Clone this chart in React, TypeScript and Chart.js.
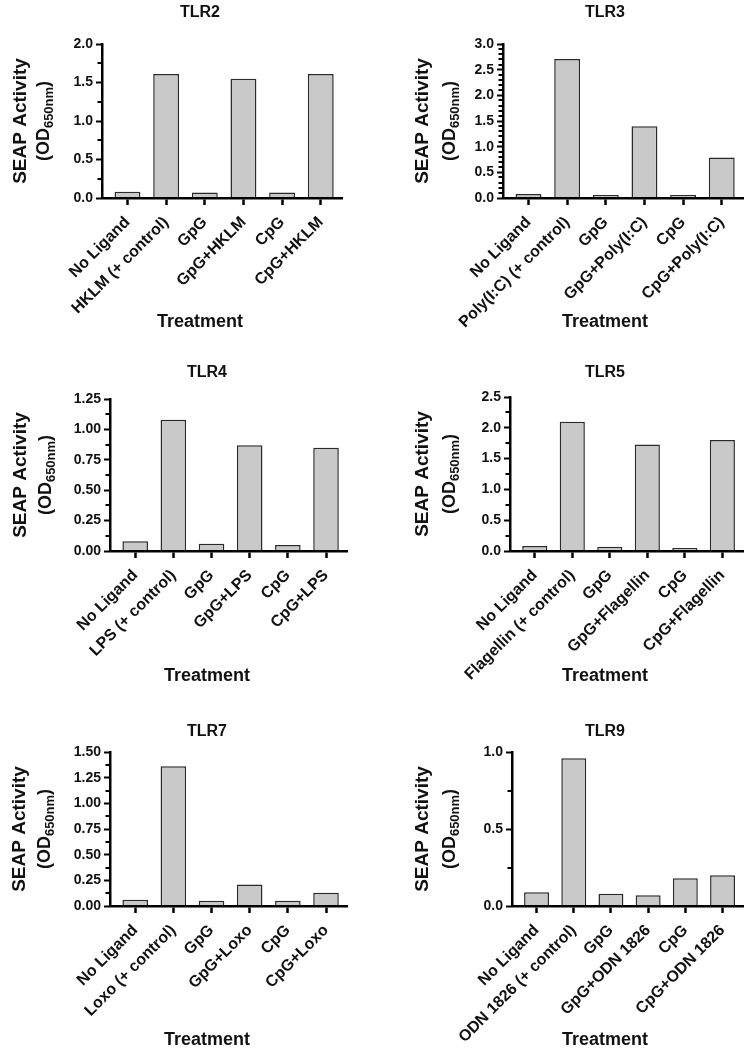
import React, { useEffect, useRef } from "react";
import { Chart, registerables } from "chart.js";

Chart.register(...registerables);

// ---------- DATA ----------
const TLR2_LABELS = ["No Ligand", "HKLM (+ control)", "GpG", "GpG+HKLM", "CpG", "CpG+HKLM"];
const TLR2_VALUES = [0.08, 1.61, 0.07, 1.55, 0.07, 1.61];

const TLR3_LABELS = ["No Ligand", "Poly(I:C) (+ control)", "GpG", "GpG+Poly(I:C)", "CpG", "CpG+Poly(I:C)"];
const TLR3_VALUES = [0.08, 2.71, 0.06, 1.40, 0.06, 0.79];

const TLR4_LABELS = ["No Ligand", "LPS (+ control)", "GpG", "GpG+LPS", "CpG", "CpG+LPS"];
const TLR4_VALUES = [0.08, 1.08, 0.06, 0.87, 0.05, 0.85];

const TLR5_LABELS = ["No Ligand", "Flagellin (+ control)", "GpG", "GpG+Flagellin", "CpG", "CpG+Flagellin"];
const TLR5_VALUES = [0.08, 2.10, 0.07, 1.73, 0.05, 1.80];

const TLR7_LABELS = ["No Ligand", "Loxo (+ control)", "GpG", "GpG+Loxo", "CpG", "CpG+Loxo"];
const TLR7_VALUES = [0.06, 1.36, 0.05, 0.21, 0.05, 0.13];

const TLR9_LABELS = ["No Ligand", "ODN 1826 (+ control)", "GpG", "GpG+ODN 1826", "CpG", "CpG+ODN 1826"];
const TLR9_VALUES = [0.09, 0.96, 0.08, 0.07, 0.18, 0.20];

// y-axis settings: [max, major step, minor step, decimals]
const TLR2_YAXIS = [2.0, 0.5, 0.25, 1];
const TLR3_YAXIS = [3.0, 0.5, 0.1, 1];
const TLR4_YAXIS = [1.25, 0.25, 0.125, 2];
const TLR5_YAXIS = [2.5, 0.5, 0.25, 1];
const TLR7_YAXIS = [1.5, 0.25, 0.125, 2];
const TLR9_YAXIS = [1.0, 0.5, 0.25, 1];

const Y_TITLE_MAIN = "SEAP Activity";
const Y_TITLE_PRE = "(OD";
const Y_TITLE_SUB = "650nm";
const Y_TITLE_POST = ")";
const X_TITLE = "Treatment";

// ---------- STYLE / LAYOUT ----------
const FONT = '"Liberation Sans", Arial, Helvetica, sans-serif';
const INK = "#111111";
const BAR_FILL = "#c9c9c9";
const BAR_EDGE = "#2a2a2a";

type Layout = {
  x: number; y: number; w: number; h: number;
  left: number; right: number; top: number; bottom: number;
  titleX: number; titleY: number; xTitleY: number;
  yMainX: number; ySubX: number;
};

const PANELS = [
  { title: "TLR2", labels: TLR2_LABELS, values: TLR2_VALUES, yaxis: TLR2_YAXIS,
    L: { x: 0, y: 0, w: 375, h: 345, left: 102, right: 342, top: 44, bottom: 198, titleX: 200, titleY: 13, xTitleY: 322, yMainX: 21, ySubX: 44 } },
  { title: "TLR3", labels: TLR3_LABELS, values: TLR3_VALUES, yaxis: TLR3_YAXIS,
    L: { x: 375, y: 0, w: 375, h: 345, left: 128, right: 368, top: 44, bottom: 198, titleX: 230, titleY: 13, xTitleY: 322, yMainX: 48, ySubX: 75 } },
  { title: "TLR4", labels: TLR4_LABELS, values: TLR4_VALUES, yaxis: TLR4_YAXIS,
    L: { x: 0, y: 345, w: 375, h: 350, left: 110, right: 347, top: 54, bottom: 206, titleX: 207, titleY: 28, xTitleY: 331, yMainX: 21, ySubX: 46 } },
  { title: "TLR5", labels: TLR5_LABELS, values: TLR5_VALUES, yaxis: TLR5_YAXIS,
    L: { x: 375, y: 345, w: 375, h: 350, left: 135, right: 368, top: 52, bottom: 206, titleX: 230, titleY: 28, xTitleY: 331, yMainX: 48, ySubX: 75 } },
  { title: "TLR7", labels: TLR7_LABELS, values: TLR7_VALUES, yaxis: TLR7_YAXIS,
    L: { x: 0, y: 695, w: 375, h: 355, left: 110, right: 347, top: 57, bottom: 211, titleX: 207, titleY: 37, xTitleY: 345, yMainX: 20, ySubX: 45 } },
  { title: "TLR9", labels: TLR9_LABELS, values: TLR9_VALUES, yaxis: TLR9_YAXIS,
    L: { x: 375, y: 695, w: 375, h: 355, left: 137, right: 368, top: 57, bottom: 211, titleX: 230, titleY: 37, xTitleY: 345, yMainX: 48, ySubX: 75 } },
];

const X_MIN = -0.66;
const X_MAX = 5.55;

const decorPlugin = {
  id: "panelDecor",
  afterDraw(chart: any, _args: any, opts: any) {
    const ctx = chart.ctx as CanvasRenderingContext2D;
    const L: Layout = opts.layout;
    const area = chart.chartArea;
    const yScale = chart.scales.y;
    ctx.save();
    // minor ticks
    const [yMax, major, minor] = opts.yaxis as number[];
    const n = Math.round(yMax / minor);
    ctx.strokeStyle = "#000";
    ctx.lineWidth = 2;
    for (let i = 1; i < n; i++) {
      const v = i * minor;
      const r = v / major;
      if (Math.abs(r - Math.round(r)) < 1e-6) continue;
      const py = Math.round(yScale.getPixelForValue(v));
      ctx.beginPath();
      ctx.moveTo(area.left, py);
      ctx.lineTo(area.left - 4.5, py);
      ctx.stroke();
    }
    ctx.fillStyle = INK;
    // title
    ctx.font = `bold 16px ${FONT}`;
    ctx.textAlign = "center";
    ctx.textBaseline = "middle";
    ctx.fillText(opts.title, L.titleX, L.titleY);
    // x title
    ctx.font = `bold 18px ${FONT}`;
    ctx.fillText(X_TITLE, L.titleX, L.xTitleY);
    // y title
    const cy = (area.top + area.bottom) / 2;
    ctx.save();
    ctx.translate(L.yMainX, cy);
    ctx.rotate(-Math.PI / 2);
    ctx.font = `bold 19px ${FONT}`;
    ctx.fillText(Y_TITLE_MAIN, 0, 0);
    ctx.restore();
    ctx.save();
    ctx.translate(L.ySubX, cy);
    ctx.rotate(-Math.PI / 2);
    const bigFont = `bold 18px ${FONT}`;
    const subFont = `bold 13px ${FONT}`;
    ctx.font = bigFont;
    const wPre = ctx.measureText(Y_TITLE_PRE).width;
    const wPost = ctx.measureText(Y_TITLE_POST).width;
    ctx.font = subFont;
    const wSub = ctx.measureText(Y_TITLE_SUB).width;
    const total = wPre + wSub + wPost;
    let xx = -total / 2;
    ctx.textAlign = "left";
    ctx.font = bigFont;
    ctx.fillText(Y_TITLE_PRE, xx, 0);
    xx += wPre;
    ctx.font = subFont;
    ctx.fillText(Y_TITLE_SUB, xx, 5);
    xx += wSub;
    ctx.font = bigFont;
    ctx.fillText(Y_TITLE_POST, xx, 0);
    ctx.restore();
    ctx.restore();
  },
};

function Panel({ cfg }: { cfg: (typeof PANELS)[number] }) {
  const ref = useRef<HTMLCanvasElement>(null);
  useEffect(() => {
    const L = cfg.L as Layout;
    const [yMax, major, , decimals] = cfg.yaxis;
    const chart = new Chart(ref.current as HTMLCanvasElement, {
      type: "bar",
      data: {
        datasets: [
          {
            data: cfg.values.map((v, i) => ({ x: i, y: v })),
            backgroundColor: BAR_FILL,
            borderColor: BAR_EDGE,
            borderWidth: 1.5,
            borderSkipped: "start",
            barPercentage: 0.67,
            categoryPercentage: 1,
          } as any,
        ],
      },
      options: {
        animation: false,
        responsive: false,
        maintainAspectRatio: false,
        devicePixelRatio: 1,
        layout: { padding: { top: L.top, left: 0, right: L.w - L.right, bottom: 0 } },
        plugins: {
          legend: { display: false },
          tooltip: { enabled: false },
          title: { display: false },
          panelDecor: { layout: L, title: cfg.title, yaxis: cfg.yaxis },
        } as any,
        scales: {
          x: {
            type: "linear",
            min: X_MIN,
            max: X_MAX,
            offset: false,
            z: 1,
            afterBuildTicks: (s: any) => {
              s.ticks = cfg.labels.map((_, i) => ({ value: i }));
            },
            afterFit: (s: any) => {
              s.height = L.h - L.bottom;
            },
            ticks: {
              autoSkip: false,
              maxRotation: 45,
              minRotation: 45,
              padding: 8,
              color: INK,
              font: { family: FONT, size: 16, weight: "bold" },
              callback: (v: any) => cfg.labels[Math.round(Number(v))],
            },
            grid: { display: true, z: 1, offset: false, drawOnChartArea: false, drawTicks: true, tickLength: 7, tickWidth: 2.5, tickColor: "#000", color: "#000" },
            border: { display: true, z: 2, color: "#000", width: 2.5 },
          },
          y: {
            min: 0,
            max: yMax,
            z: 1,
            afterFit: (s: any) => {
              s.width = L.left;
            },
            ticks: {
              stepSize: major,
              padding: 3,
              color: INK,
              font: { family: FONT, size: 14, weight: "bold" },
              callback: (v: any) => Number(v).toFixed(decimals),
            },
            grid: { display: true, z: 1, drawOnChartArea: false, drawTicks: true, tickLength: 6, tickWidth: 2, tickColor: "#000", color: "#000" },
            border: { display: true, z: 2, color: "#000", width: 2.5 },
          },
        } as any,
      },
      plugins: [decorPlugin],
    });
    return () => chart.destroy();
  }, [cfg]);
  const L = cfg.L;
  return (
    <canvas
      ref={ref}
      width={L.w}
      height={L.h}
      style={{ position: "absolute", left: L.x, top: L.y, width: L.w, height: L.h }}
    />
  );
}

export default function App() {
  return (
    <div style={{ position: "absolute", left: 0, top: 0, width: 750, height: 1050, background: "#fff" }}>
      {PANELS.map((p) => (
        <Panel key={p.title} cfg={p} />
      ))}
    </div>
  );
}
